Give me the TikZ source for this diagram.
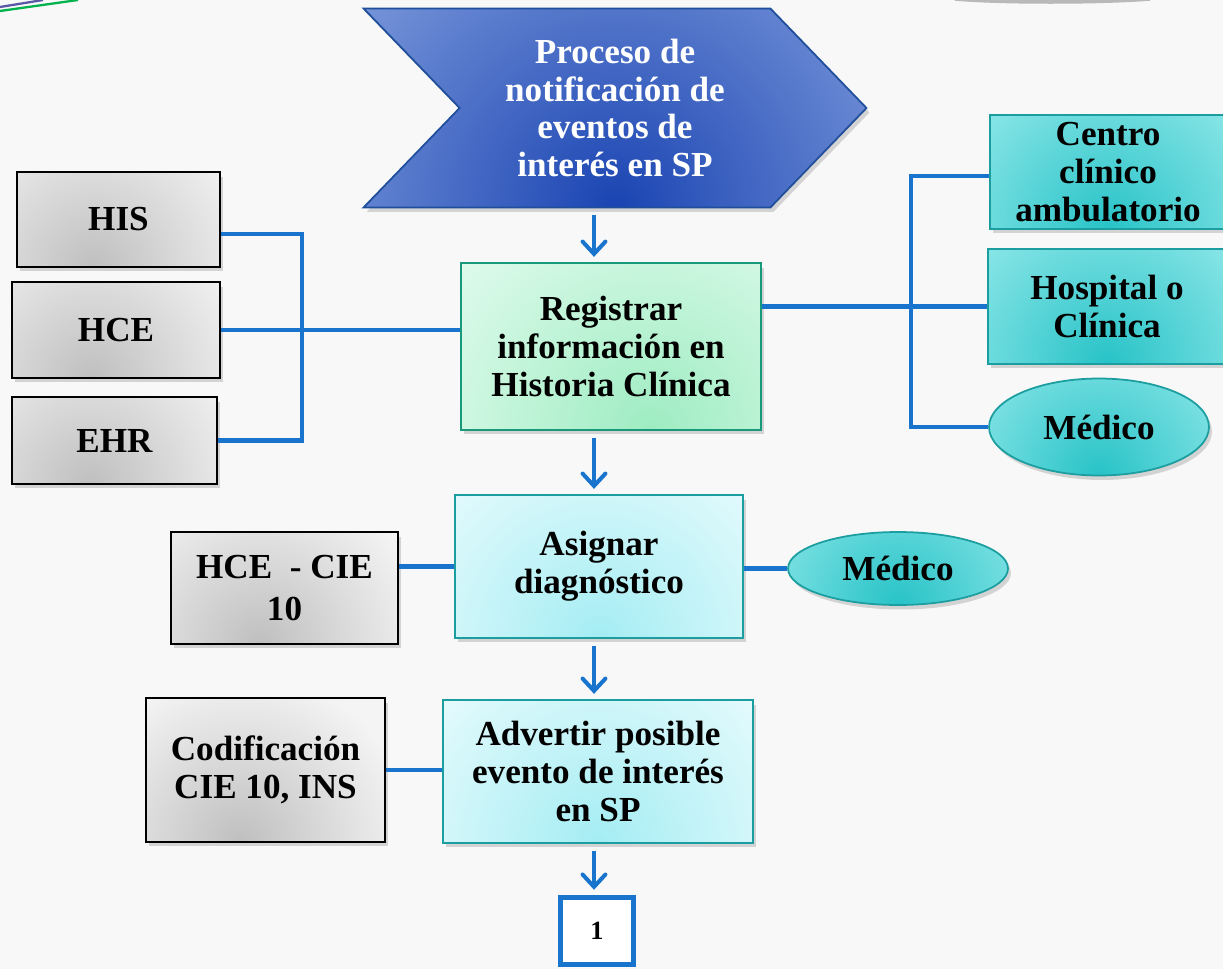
\documentclass[tikz,border=0pt]{standalone}
\usepackage{fontspec}
\setmainfont{Liberation Serif}
\usetikzlibrary{shapes,arrows.meta,shadows,positioning}

\definecolor{linkblue}{HTML}{1874CD}
\definecolor{chevdark}{HTML}{1A44B2}
\definecolor{chevlight}{HTML}{A9C0EE}
\definecolor{chevedge}{HTML}{1F4E9A}
\definecolor{mintlight}{HTML}{E4FCEF}
\definecolor{mintdark}{HTML}{9EECC2}
\definecolor{mintedge}{HTML}{17997A}
\definecolor{icelight}{HTML}{E8FBFD}
\definecolor{icedark}{HTML}{A4EDF3}
\definecolor{tealight}{HTML}{ABF1F2}
\definecolor{tealdark}{HTML}{27C3C7}
\definecolor{tealedge}{HTML}{1C9EA0}
\definecolor{paper}{HTML}{F8F8F8}

\begin{document}
\begin{tikzpicture}[x=0.02cm,y=-0.02cm,
    font=\bfseries\fontsize{20}{21.5}\selectfont,
    glow/.style n args={4}{fill=#2, path picture={\shade[inner color=#1, outer color=#2]
        ([xshift=#3]path picture bounding box.south) circle (#4);}},
    shade box/.style={drop shadow={shadow xshift=0.06cm, shadow yshift=-0.09cm, opacity=0.3}},
    greybox/.style={rectangle, draw=black, line width=1.4pt, align=center, shade box,
        glow={gray!50}{gray!9}{-0.5cm}{3.4cm}},
    mintbox/.style={rectangle, draw=mintedge, line width=1pt, align=center, shade box,
        glow={mintdark}{mintlight}{0.8cm}{5.5cm}},
    icebox/.style={rectangle, draw=tealedge, line width=1pt, align=center, shade box,
        glow={icedark}{icelight}{0cm}{4.5cm}},
    tealbox/.style={rectangle, draw=tealedge, line width=1pt, align=center, shade box,
        glow={tealdark}{tealight}{0cm}{4.5cm}},
    tealoval/.style={ellipse, draw=tealedge, line width=1pt, align=center, shade box,
        glow={tealdark}{tealight}{0cm}{4cm}},
    link/.style={draw=linkblue, line width=2.8pt},
    flow/.style={draw=linkblue, line width=2.3pt, -{Straight Barb[length=7pt,width=13pt,line cap=round]},
        shorten <=4pt, shorten >=3pt}]

  \useasboundingbox (0,0) rectangle (1223,969);
  \fill[paper] (0,0) rectangle (1223,969);

  % corner trims
  \draw[gray!70!blue, line width=1.3pt] (0,7) -- (43,0);
  \draw[teal!60!green, line width=1.3pt] (0,11) -- (78,0);
  \draw[gray!55, line width=2pt] (955,-1) .. controls (1000,3) and (1100,3) .. (1150,-1);

  % main column
  \node[signal, signal from=west, signal to=east, signal pointer angle=92,
        draw=chevedge, line width=1pt, text=white, align=center, shade box,
        glow={chevdark}{chevlight}{0cm}{10cm},
        minimum width=10.06cm, minimum height=3.98cm] (proc) at (615,108)
        {Proceso de\\notificación de\\eventos de\\interés en SP};
  \node[mintbox, minimum width=6cm, minimum height=3.34cm] (reg) at (611,346.5)
        {Registrar\\información en\\Historia Clínica};
  \node[icebox, minimum width=5.76cm, minimum height=2.86cm] (asig) at (599,566.5)
        {Asignar\\diagnóstico};
  \node[icebox, minimum width=6.2cm, minimum height=2.86cm] (adv) at (598,771.5)
        {Advertir posible\\evento de interés\\en SP};
  \node[rectangle, draw=linkblue, line width=2.8pt, fill=white,
        minimum width=1.46cm, minimum height=1.34cm, font=\bfseries\fontsize{15}{17}\selectfont] (one) at (597,931) {1};

  % sources on the left
  \node[greybox, minimum width=4.06cm, minimum height=1.9cm] (his) at (118.5,219.5) {HIS};
  \node[greybox, minimum width=4.16cm, minimum height=1.92cm] (hce) at (116,330) {HCE};
  \node[greybox, minimum width=4.1cm, minimum height=1.74cm] (ehr) at (114.5,440.5) {EHR};
  \node[greybox, minimum width=4.54cm, minimum height=2.24cm, font=\bfseries\fontsize{20}{24}\selectfont] (hcecie) at (284.5,588) {HCE \ - CIE\\10};
  \node[greybox, minimum width=4.78cm, minimum height=2.88cm] (codif) at (265.5,770) {Codificación\\CIE 10, INS};

  % actors on the right
  \node[tealbox, minimum width=4.72cm, minimum height=2.28cm] (centro) at (1108,172) {Centro\\clínico\\ambulatorio};
  \node[tealbox, minimum width=4.76cm, minimum height=2.3cm] (hosp) at (1107,306.5) {Hospital o\\Clínica};
  \node[tealoval, minimum width=4.4cm, minimum height=1.94cm] (medA) at (1099,427) {Médico};
  \node[tealoval, minimum width=4.4cm, minimum height=1.46cm] (medB) at (898,568.5) {Médico};

  \coordinate (lbus) at (302,0);
  \coordinate (rbus) at (911,0);
  \coordinate (axis) at (594,0);

  % connectors
  \draw[link] ([yshift=-0.29cm]his.east) -| (lbus |- ehr.east) -- (ehr.east);
  \draw[link] (hce.east) -- (hce.east -| reg.west);
  \draw[link] (reg.east |- hosp.west) -- (hosp.west);
  \draw[link] ([yshift=-0.08cm]centro.west) -| (rbus |- medA.west) -- (medA.west);
  \draw[link] (asig.west -| hcecie.east) -- (asig.west);
  \draw[link] (asig.east |- medB.west) -- (medB.west);
  \draw[link] (codif.east) -- (codif.east -| adv.west);

  \draw[flow] (proc.south -| axis) -- (reg.north -| axis);
  \draw[flow] (reg.south -| axis) -- (asig.north -| axis);
  \draw[flow] (asig.south -| axis) -- (adv.north -| axis);
  \draw[flow] (adv.south -| axis) -- (one.north -| axis);
\end{tikzpicture}
\end{document}
